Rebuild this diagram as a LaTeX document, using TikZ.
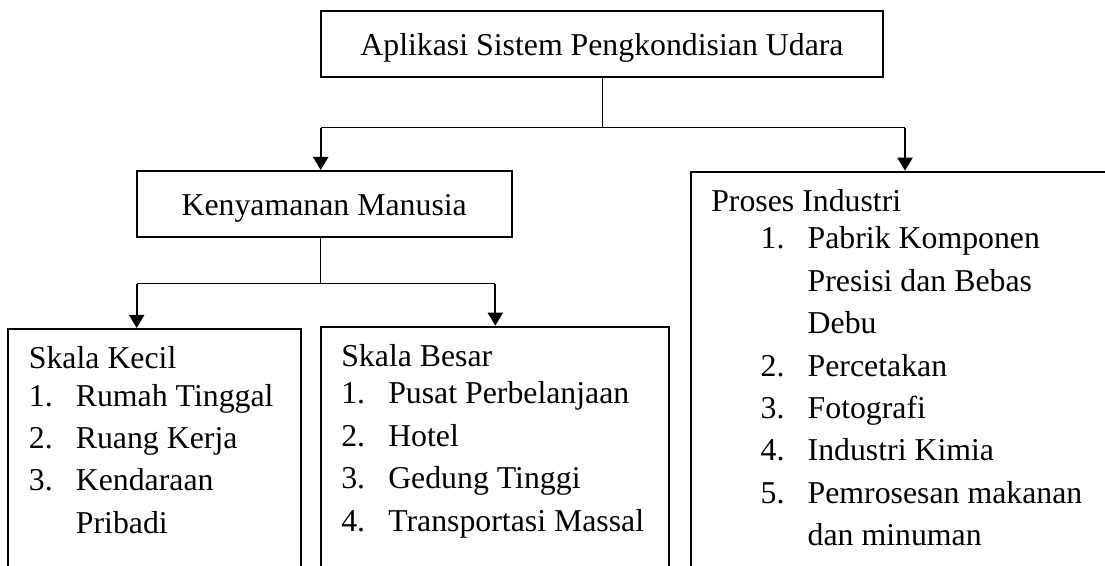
\documentclass[tikz,border=0pt]{standalone}
\usepackage{fontspec}
\setmainfont{Liberation Serif}
\usetikzlibrary{arrows.meta}

\newcommand{\itemno}[2]{\makebox[23.5pt][l]{#1.}#2}
\newcommand{\itemcont}[1]{\hspace*{23.5pt}#1}

\begin{document}
\begin{tikzpicture}[x=0.5pt, y=-0.5pt, font=\fontsize{15.9}{21.2}\selectfont]
        \tikzset{box/.style={draw, line width=1pt, minimum height=33.15pt,
                             text height=11pt, text depth=0pt},
                 listbox/.style={draw, line width=1pt, anchor=north west,
                                 align=flush left, inner xsep=10.3pt, inner ysep=9pt,
                                 text height=11pt, text depth=200pt},
                 link/.style={line width=0.5pt},
                 arrow/.style={line width=1pt,
                               -{Triangle[width=7.5pt,length=6.5pt]}}}
        \useasboundingbox (0,0) rectangle (1105,566);
        \clip (0,0) rectangle (1105,566);

        \node[box, minimum width=281.3pt] (aplikasi) at (602,44.15)
             {Aplikasi Sistem Pengkondisian Udara};
        \node[box, minimum width=187.5pt] (kenyamanan) at (324.2,204.15)
             {Kenyamanan Manusia};

        \node[listbox, text width=240pt] (proses) at (689.7,170.7)
             {Proses Industri\\[-2.6pt]
              \hspace*{24.7pt}\itemno{1}{Pabrik Komponen}\\
              \hspace*{24.7pt}\itemcont{Presisi dan Bebas}\\
              \hspace*{24.7pt}\itemcont{Debu}\\
              \hspace*{24.7pt}\itemno{2}{Percetakan}\\
              \hspace*{24.7pt}\itemno{3}{Fotografi}\\
              \hspace*{24.7pt}\itemno{4}{Industri Kimia}\\
              \hspace*{24.7pt}\itemno{5}{Pemrosesan makanan}\\
              \hspace*{24.7pt}\itemcont{dan minuman}};

        \node[listbox, text width=125.75pt] (kecil) at (7.3,328)
             {Skala Kecil\\[-2.6pt]
              \itemno{1}{Rumah Tinggal}\\
              \itemno{2}{Ruang Kerja}\\
              \itemno{3}{Kendaraan}\\
              \itemcont{Pribadi}};
        \node[listbox, text width=153.4pt] (besar) at (319.7,325.7)
             {Skala Besar\\[-2.6pt]
              \itemno{1}{Pusat Perbelanjaan}\\
              \itemno{2}{Hotel}\\
              \itemno{3}{Gedung Tinggi}\\
              \itemno{4}{Transportasi Massal}};

        \coordinate (split1) at (602,128);
        \coordinate (left1) at (320.7,128);
        \coordinate (right1) at (905,128);
        \draw[link] (aplikasi) -- (split1);
        \draw[link] (left1) -- (right1);
        \draw[arrow] (left1) -- (left1 |- kenyamanan.north);
        \draw[arrow] (right1) -- (right1 |- proses.north);

        \coordinate (split2) at (320.7,284);
        \coordinate (left2) at (136.7,284);
        \coordinate (right2) at (495.3,284);
        \draw[link] (split2 |- kenyamanan.south) -- (split2);
        \draw[link] (left2) -- (right2);
        \draw[arrow] (left2) -- (left2 |- kecil.north);
        \draw[arrow] (right2) -- (right2 |- besar.north);
\end{tikzpicture}
\end{document}
